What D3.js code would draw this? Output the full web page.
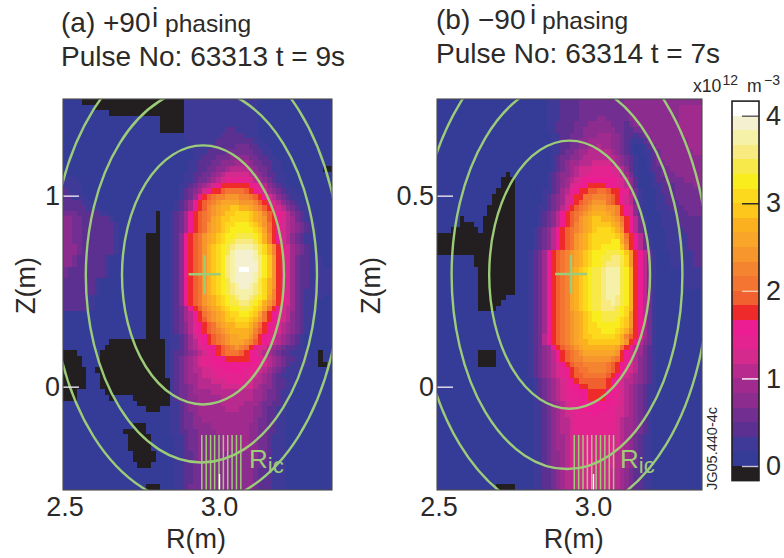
<!DOCTYPE html>
<html>
<head>
<meta charset="utf-8">
<script src="https://cdn.jsdelivr.net/npm/d3@7"></script>
<style>
html, body { margin: 0; padding: 0; background: #fff; }
text { font-family: "Liberation Sans", Arial, sans-serif; fill: #2b2a29; }
</style>
</head>
<body>
<script>
// colour classes of the bar, lowest first: "." is below zero, "y" is above 4
var levelCodes = ".abcdefghijklmnopqrstuvwxy";
var levelColors = ["#231f20", "#353c98", "#3f3a98", "#5c3090", "#722e90", "#8c2c8e", "#a02a8e", "#b82a8e",
    "#d42a8e", "#e52390", "#ec1c92", "#ee2a2a", "#f1612f", "#f47432", "#f58430", "#f7962c", "#f8a52a",
    "#fbb020", "#fdc71c", "#fcd91c", "#f9ed1e", "#f7e94a", "#f8ea80", "#f6f1a8", "#f4f0d0", "#ffffff"];
var barTicks = [0, 1, 2, 3, 4];
var barTickColors = ["#c9c0dc", "#ffffff", "#f6c8a6", "#222222", "#555555"];

// density classes, one string per row from the top, spaces only for counting
var rowsA = [
"aaaa...... .......... ......bbbb bbbbbbbbbb bbaaaaaaaa aaaaaaaa",
"aaaaaaa... .......... ......bbbb bbbbbbbbbb bbaaaaaaaa aaaaaaaa",
"aaaaaaaaaa .......... ......bbbb bbbbbbbbbb bbaaaaaaaa aaaaaaaa",
"aaaaaaaaaa aaaaaaaaaa a.....bbbb bbbbbbbbbb bbaaaaaaaa aaaaaaaa",
"aaaaaaaaaa aaaaaaaaaa a.....bbbb bbbbbbbbbb bbaaaaaaaa aaaaaaaa",
"aaaaaaaaaa aaaaaaaaaa a.....bbbb bbbbbccbbb bbaaaaaaaa aaaaaaaa",
"aaaaaaaaaa aaaaaaaaaa aaaaaabbbb bbbbcccccb bbaaaaaaaa aaaaaaaa",
"aaaaaaaaaa aaaaaaaaaa aaaaaaabbb bbbccccccc cbbaaaaaaa aaaaaaaa",
"aaaaaaaaaa aaaaaaaaaa aaaaaaabbb bbcccccddd ccbbaaaaaa aaaaaaaa",
"aaaaaaaaaa aaaaaaaaaa aaaaaaaabb bccccddddd dccbbaaaaa aaaaaaaa",
"aaaaaaaaaa aaaaaaaaaa aaaaaaaabb cccdddeeee ddccbbaaaa aaaaaaaa",
"aaaaaaaaaa aaaaaaaaaa aaaaaaabbc ccddeeefff eddccbbaaa aaaaaaaa",
"aaaaaaaaaa aaaaaaaaaa aaaaaaabbc cddeefgggg feddcbbaaa aaaaaa..",
"aaaaaaaaaa aaaaaaaaaa aaaaaabbcc ddefghhhhh gfedccbbaa aaaaaaaa",
"bbbaaaaaaa aaaaaaaaaa aaaaaabbcd defghiiiii hgfedcbbaa aaaaaaaa",
"bbbbaaaaaa aaaaaaaaaa aaaaabbcde fghjkkkkkk jihgedcbba aaaaaaaa",
"cbbbaaaaaa aaaaaaaaaa aaaaabcdef hjkklmmmml kjihfedcbb aaaaaaaa",
"ccbbbaaaaa aaaaaaaaaa aaaaabcdfj klmnnooonn mlkjhgedcb baaaaaaa",
"ccccbbaaaa aaaaaaaaaa aaaabcdfjk lmnoppppoo onlkjhgedc bbaaaaaa",
"cccccbbbaa aaaaaaaaaa aaaabcdfjk lnopqqrrqq ponlkjhged cbbaaaaa",
"dddcccccbb aaaaaaaaaa .aabcdfjkl mnopqrrsss rqpnlkjhge dcbbaaaa",
"eeddcccccc baaaaaaaaa .aabcdfjkl mnpqrrssss rqpolkjhgf dcbbaaaa",
"eeddcccccc cbaaaaaaaa .aabcdfjkl mopqrssttt srqomkjhgf edcbbaaa",
"eeddcccccc cbaaaaaaaa .aabcdfjkl mopqrstttt tsrpmkjhgf edcbbaaa",
"eeddcccccc cbaaaaaa.. .aabcejklm opqrsttuuu utsqnkjhge dcbbaaaa",
"eeddcccccc cbaaaaaa.. .aabcejklm opqrstuvvv vusqnkjhge dcbbaaaa",
"eeedcccccc cbaaaaaa.. .aabcejklm oqrstuvwww wvusqnkjhf edcbbaaa",
"eeedcccccc cbaaaaaa.. .aabcejklm oqrstuwxxx xwusqnkjhf edcbbaaa",
"eedccccccb aaaaaaaa.. .aabcejklm oqrstvwxxx xwvtrokjhf dccbbbaa",
"eedccccccb aaaaaaaa.. .aabcejklm oqrstvwxxx xxvtrokjhf dccbbbaa",
"dccccccccb aaaaaaaa.. .aabcejklm oqrstvwxyy xxvtrokjhf dccbbbbb",
"dccccccccb aaaaaaaa.. .aabcejklm oqrstvwxxx xwvtrokjhf dccbbbbb",
"cccccccbaa aaaaaaaa.. .aabcejklm oqrstuwxxx xwusqokjhf dccbbbbb",
"cccccccbaa aaaaaaaa.. .aabcejklm oqrstuvwxx wvusqokjhf dccbbbbb",
"cccccccbaa aaaaaaaa.. .aabcejklm oqrstuvwww wvusqnkjhf dcbbbbbb",
"cccccbbaaa aaaaaaaa.. .aabcejklm opqrstuvww vutspnkjhf dcbbbbaa",
"cccccbbaaa aaaaaaaa.. .aabcejklm opqrstuuvv utsqomkjhf dcbbbaaa",
"cccccbbaaa aaaaaaaa.. .aabcdfjkl nopqrsttuu tsrpmkjhgf dcbbbaaa",
"aaaaaaaaaa aaaaaaaa.. .aabcdfgjk mnopqrsstt srpmkjihge dcbbaaaa",
"aaaaaaaaaa aaaaaaaa.. .aabcdfgjk lnopqrrsss rqomkjihge dcbbaaaa",
"aaaaaaaaaa aaaaaaaa.. .aabcdegij klmopqqrrr qomkjihgfe dcbaaaaa",
"aaaaaaaaaa aaaaaaaa.. .aabcdegij klmnopqqqq pnlkjihgfe dcbaaaaa",
"aaaaaaaaaa aaaaaaaa.. .aabbcdfhi jklmnoppqq omkjihgfed cbaaaaaa",
"aaaaaaaaaa .......... ..abbcdfgi jklmnopppo nlkjihgfed cbaaaaaa",
"aaaaaaaaa. .......... ..abbcdfgh ijjklmnonm kjihgfedcc bbaaaaaa",
"...aaaaa.. .......... ..abccdefg hijklmmmlk jihgfedccb bbbaa.aa",
"....aaaa.. .......... ..abcdefgh iijjjkkkkk jjihgfedcc bbbaa.aa",
"....aaaa.. .......... ..abcdefgh iiijjjjjjj jiihgfedcb bbbaa..a",
".....aa... .......... ..abcdefgg hhiiijjjji iihgfedcbb bbaaaaaa",
".....aaa.. .......... ..abcdeffg hhhiiiiiii ihgfedcbbb aaaaaaaa",
".....aaa.. .......... ...bcdeffg gghhhiiiih hggfedccbb aaaaaaaa",
".....aaa.. .......... ...bcddefg gggghhhhhh hgfeedccbb aaaaaaaa",
"...aaaaaa. .......... ...bcddeff ffgggggggg gffeddcbba aaaaaaaa",
"...aaaaaaa .aaaa..... ...bcddeef ffffgggggg gffeddcbba aaaaaaaa",
"aaaaaaaaaa aaaaaa.... ...bbcdeef ffffgggggf ffeddccbba aaaaaaaa",
"aaaaaaaaaa aaaaaaaa.. .aabbcdeef fffffgggff feedccbbaa aaaaaaaa",
"aaaaaaaaaa aaaaaaaaaa aaabbcddef ffffffffff feedccbbaa aaaaaaaa",
"aaaaaaaaaa aaaaaaaaaa aaabbcddee ffffffffff feddccbbaa aaaaaaaa",
"aaaaaaaaaa aaaaa...aa aaabbcddee eeffffffff eeddccbbaa aaaaaaaa",
"aaaaaaaaaa aaa.....aa aaabbccdde eeefffffff eeddccbbaa aaaaaaaa",
"aaaaaaaaaa aaaa.....a aaaabbcdde eeeeffffff eeddcbbbaa aaaaaaaa",
"aaaaaaaaaa aaaa.....a aaaabbcdde eeeeffffff eeddcbbbaa aaaaaaaa",
"aaaaaaaaaa aaaa.....a aaaabbcdde eeeeffffff eeddcbbbaa aaaaaaaa",
"aaaaaaaaaa aaaaa..... aaaabbccde eeeeeeeeee eeddcbbbaa aaaaaaaa",
"aaaaaaaaaa aaaaa..... aaaabbccde eeeeeeeeee eeddcbbbaa aaaaaaaa",
"aaaaaaaaaa aaaaaa...a aaaabbccdd eeeeeeeeee eddcccbbaa aaaaaaaa",
"aaaaaaaaaa aaaaaaaaaa aaaabbccdd eeeeeeeeee edcccbbbaa aaaaaaaa",
"aaaaaaaaaa aaaaaaaaaa aaaabbccdd eeeeeeeeee edcccbbbaa aaaaaaaa",
"aaaaaaaaaa aaaaaaaaaa aaaabbccdd eeeeeeeeee edcccbbbaa aaaaaaaa",
"aaaaaaaaaa aaaaaaaa.. .aaabbcddd eeeeeeeeee edcccbbbaa aaaaaaaa"
];

// same for panel (b)
var rowsB = [
"aaaaaaaaaa aaaaaaaaaa aaaabbbccc cddddddddd deeeeeeeee eeeeeeee",
"aaaaaaaaaa aaaaaaaaaa aaaabbbccc cddddddddd deeeeeeeee eeefffff",
"aaaaaaaaaa aaaaaaaaaa aaaabbbccc cddddddddd ddeeeeeeee eeefffff",
"aaaaaaaaaa aaaaaaaaaa aaaabbbccc cddddeeddd ddeeeeeeee eeefffff",
"aaaaaaaaaa aaaaaaaaaa aaaabbcccc dddeeeeedd dcdeeeeeee eeefffff",
"aaaaaaaaaa aaaaaaaaaa aaaabbcccc ddeeeeeeed dccddeeeee eeefffff",
"aaaaaaaaaa aaaaaaaaaa aaaaabbccd ddeeefffee dccbcdeeee eeeeffff",
"aaaaaaaaaa aaaaaaaaaa aaaaabbccd deefffffee dcbbbcdeee eeeeefff",
"aaaaaaaaaa aaaaaaaaaa aaaaabbccd deeffgffee dcbaabcdee eeeeefff",
"aaaaaaaaaa aaaaaaaaaa aaaaabbcdd effgggggfe dcbaabbcde eeeeeeff",
"aaaaaaaaaa aaaaaaaaaa aaaaabcdde efgggggggf edcbaabcde eeeeeeee",
"aaaaaaaaaa aaaaaaaaaa aaaaabcdef fggghhhhgf edcbaabcdd eeeeeeee",
"aaaaaaaaaa aaaaaaaaaa aaaaabcdef ghhhiiiihh gecbaabccd deeeeeee",
"aaaaaaaaaa aaaaa.aaaa aaaabcdeef ghhiiiiiih gfdbaaabcd ddeeeeee",
"aaaaaaaaaa aaaa...aaa aaaabcdefg hijjjjjjji hgecaaabcc ddddeeee",
"aaaaaaaaaa aaaa...aaa aaaabcdefh ijjkkkkjji hgecaaabbc ccddddee",
"aaaaaaaaaa aaa....aaa aaabbcdfgi jkkllmmlkk jifdbaaabc ccdddddd",
"aaaaaaaaaa aa.....aaa aaabcdefhi kkmmnnnmlk jhgdbaaabb ccdddddd",
"aaaaaaaaaa aa.....aaa aaabcdefhi klmnooomlk jhgdbaaabb cccddddd",
"aaaaaaaaaa a......aaa aabbcdegik lmnopppoon kjhebaaabb bcccdddd",
"aaaaaaaaaa a......aaa aabcdegjkl mnopqqqpon kjhecaaaab bbcccddd",
"aaaaa.aaaa .......aaa aabcdegjkl mopqrrqqpo mkjgdbaaab bbcccccc",
"aaaaa...aa .......aaa aabcdegjkl nopqrrrrqp nkjgdbaaab bbbccccc",
"aaa......a .......aaa abcdegjklm nopqrsssrq okjgdbaaaa bbbbcccc",
".......... .......aaa abcdegjklm opqrsssssr qmkjgdbaaa bbbbbccc",
".......... .......aaa abcdegjklm opqrsssstt qnkjgdbaaa bbbbbccc",
".......... .......aaa abcdegjklm opqrsstttt rokjgdbaaa bbbbbccc",
".......... .......aaa bcdfjklmno pqrstttuuu trokjgdbaa abbbbbcc",
"aaaaaaaa.. .......aaa bcdfjklmno pqrsttuuvv usokjgdbaa abbbbbcc",
"aaaaaaaa.. .......aaa bcdfjklmno pqrsttuvvv usokjgdbaa abbbbbcc",
"aaaaaaaaa. .......aaa bcdfjklmnp qrstuuvwww utqkjgdbaa aaaabbbb",
"aaaaaaaaa. .......aaa bcdfjklmnp qrstuuvwww utqkjgdbaa aaaabbbb",
"aaaaaaaaa. .......aaa bcdfjklmnp qrstuuvwww utqkjgdbaa aaaabbbb",
"aaaaaaaaa. .......aaa bcdfjklmnp qrstuuvwww utqkjgdbaa aaaabbbb",
"aaaaaaaaa. .......aaa bcdfjklmnp qrstuuvwww utqkjgdbaa aaaaaaaa",
"aaaaaaaaa. .....aaaaa bcdfjklmnp qrstuuvwwv utqkjgdbaa aaaaaaaa",
"aaaaaaaaa. ....aaaaaa bcdfjklmnp qrstuuvvwv utqkjgdbaa aaaaaaaa",
"aaaaaaaaa. ...aaaaaaa bcdfjklmnp qrstuuvvvu tsqkjgdbaa aaaaaaaa",
"aaaaaaaaaa aaaaaaaaaa bcdfjklmno pqrsttuuuu tsokjgdbaa aaaaaaaa",
"aaaaaaaaaa aaaaaaaaaa bcdfjklmno pqrsttuuut srokjgdbaa aaaaaaaa",
"aaaaaaaaaa aaaaaaaaaa bcdfjklmno pqrssttttt srokjfdbaa aaaaaaaa",
"aaaaaaaaaa aaaaaaaaaa bcdfjklmno pqrsssttts rqnkjfdbaa aaaaaaaa",
"aaaaaaaaaa aaaaaaaaaa bcdgjklmno pqrrsssssr qnlkjfdbaa aaaaaaaa",
"aaaaaaaaaa aaaaaaaaaa bcdgjklmno pqqrrrrrrr qokjgedbaa aaaaaaaa",
"aaaaaaaaaa aaaaaaaaaa bcdefjklmn opqqqqqqqp mkjgfdcbaa aaaaaaaa",
"aaaaaaaaa. ...aaaaaaa bcdefgjklm nopppppppo kjhgfdcbaa aaaaaaaa",
"aaaaaaaaa. ...aaaaaaa bcdefgjklm nnoooooonm kjhgedcbaa aaaaaaaa",
"aaaaaaaaa. ...aaaaaaa bcdefghjkl mmnnnnnmlk jihgedcbaa aaaaaaaa",
"aaaaaaaaaa aaaaaaaaaa bcdefghijk lmmnnnnmlk jihgedcbaa aaaaaaaa",
"aaaaaaaaaa aaaaaaaaaa bcdefghijk llmmmmmlkj ihgfedcbaa aaaaaaaa",
"aaaaaaaaaa aaaaaaaaaa abcdefghij kllllllkji hggfedcbaa aaaaaaaa",
"aaaaaaaaaa aaaaaaaaaa abcdefghij jkkllllkji hgfedcbbaa aaaaaaaa",
"aaaaaaaaaa aaaaaaaaaa abcdefghii jjjkkkkjji hgfedcbbaa aaaaaaaa",
"aaaaaaaaaa aaaaaaaaaa abcdefghii ijjkkkkjii hgfedcbbaa aaaaaaaa",
"aaaaaaaaaa aaaaaaaaaa abbcdefghi ijjjjjjjii hgfedcbaaa aaaaaaaa",
"aaaaaaaaaa aaaaaaaaaa abbcdefghi iijjjjjiih hgfedcbaaa aaaaaaaa",
"aaaaaaaaaa aaaaaaaaaa abbcdefghh iiiijiiiih hgfedcbaaa aaaaaaaa",
"aaaaaaaaaa aaaaaaaaaa abbcdefggh iiiiiiiiih gffedcbaaa aaaaaaaa",
"aaaaaaaaaa aaaaaaaaaa abbcdefggh iiiiiiiiih gffedcbaaa aaaaaaaa",
"aaaaaaaaaa aaaaaaaaaa abbcdefggh iiiiiiiiih gffedcbaaa aaaaaaaa",
"aaaaaaaaaa aaaaaaaaaa abbcdeffgh hiiiiiiihh gfedcbbaaa aaaaaaaa",
"aaaaaaaaaa aaaaaaaaaa abbcdeffgh hiiiiiiihh gfedcbbaaa aaaaaaaa",
"aaaaaaaaaa aaaaaaaaaa abbcdeffgh hiiiiiiihh gfedcbbaaa aaaaaaaa",
"aaaaaaaaaa aaaaaaaaaa abbcdeefgh hhiiiihhhg gfedcbbaaa aaaaaaaa",
"aaaaaaaaaa aaaaaaaaaa abbcdeefgh hhiiiihhhg gfedcbbaaa aaaaaaaa",
"aaaaaaaaaa aaaaaaaaaa abbcdeefgh hhiiiihhhg gfedcbbaaa aaaaaaaa",
"aaaaaaaaaa aaaaaaaaaa abbccdefgg hhhhhhhhgg fedccbbaaa aaaaaaaa",
"aaaaaaaaaa aaaaaaaaaa abbccdefgg hhhhhhhhgg fedccbbaaa aaaaaaaa",
"aaaaaaaaaa aaaaaaaaaa abbccdefgg hhhhhhhhgg fedccbbaaa aaaaaaaa",
"aaaaaaaaaa aaa....aaa abbccdefgg hhhhhhhhgg fedccbbaaa aaaaaaaa"
];

// flux surfaces as [R centre, Z centre, R half width, Z half height]
var surfacesA = [
    [2.9487, .585, .2596, .678],
    [2.9436, .582, .3705, .979],
    [2.9263, .595, .4647, 1.209]
];
var surfacesB = [
    [2.925, .2932, .2577, .3508],
    [2.9167, .2924, .3699, .5079],
    [2.9038, .295, .4679, .6309]
];

// magnetic axis and the hatched Ric strip
var axisA = [2.954, .5885], axisB = [2.9295, .295];
var ricA = [2.945, 2.959, 2.973, 2.986, 3.0, 3.014, 3.028, 3.042, 3.056, 3.07];
var ricB = [2.94, 2.954, 2.968, 2.982, 2.996, 3.01, 3.024, 3.038, 3.052, 3.066];

var green = "#9ccc78";

var svg = d3.select("body").append("svg")
    .attr("width", 784)
    .attr("height", 558)
    .style("display", "block");

var colorOf = d3.scaleOrdinal().domain(levelCodes.split("")).range(levelColors);

function drawPanel(opt) {
    var x = d3.scaleLinear().domain(opt.rDomain).range(opt.xRange);
    var y = d3.scaleLinear().domain(opt.zDomain).range(opt.yRange);
    var rows = opt.rows.map(function(r){ return r.replace(/ /g, ""); });

    var g = svg.append("g").attr("class", "panel");

    g.append("clipPath").attr("id", "clip" + opt.id)
        .append("rect")
        .attr("x", opt.xRange[0])
        .attr("y", opt.yRange[1])
        .attr("width", opt.xRange[1] - opt.xRange[0])
        .attr("height", opt.yRange[0] - opt.yRange[1]);

    var colBand = d3.scaleBand().domain(d3.range(58)).range(opt.xRange);
    var rowBand = d3.scaleBand().domain(d3.range(rows.length)).range([opt.yRange[1], opt.yRange[0]]);

    var rowG = g.selectAll(".row")
        .data(rows)
        .enter()
        .append("g")
        .attr("class", "row");

    rowG.selectAll("rect")
        .data(function(d, i){
            return d.split("").map(function(c, j){ return {c: c, col: j, row: i}; });
        })
        .enter()
        .append("rect")
        .attr("x", function(d){ return colBand(d.col); })
        .attr("y", function(d){ return rowBand(d.row); })
        .attr("width", colBand.bandwidth() + 0.4)
        .attr("height", rowBand.bandwidth() + 0.4)
        .attr("shape-rendering", "crispEdges")
        .style("fill", function(d){ return colorOf(d.c); });

    var over = g.append("g").attr("clip-path", "url(#clip" + opt.id + ")");

    over.selectAll(".surface")
        .data(opt.surfaces)
        .enter()
        .append("ellipse")
        .attr("class", "surface")
        .attr("cx", function(d){ return x(d[0]); })
        .attr("cy", function(d){ return y(d[1]); })
        .attr("rx", function(d){ return x(d[0] + d[2]) - x(d[0]); })
        .attr("ry", function(d){ return y(d[1] - d[3]) - y(d[1]); })
        .style("fill", "none")
        .style("stroke", green)
        .style("stroke-width", 2.4);

    // hatched strip
    over.selectAll(".ric")
        .data(opt.ric)
        .enter()
        .append("line")
        .attr("class", "ric")
        .attr("x1", function(d){ return x(d); })
        .attr("x2", function(d){ return x(d); })
        .attr("y1", opt.ricTop)
        .attr("y2", opt.yRange[0])
        .style("stroke", green)
        .style("stroke-width", 1.5);

    // cross on the axis
    var cx = x(opt.axis[0]), cy = y(opt.axis[1]);
    g.append("line").attr("x1", cx - 16).attr("x2", cx + 16).attr("y1", cy).attr("y2", cy)
        .style("stroke", green).style("stroke-width", 2.4);
    g.append("line").attr("x1", cx).attr("x2", cx).attr("y1", cy - 19).attr("y2", cy + 20)
        .style("stroke", green).style("stroke-width", 2.4);

    var ric = g.append("text")
        .attr("x", opt.ricX)
        .attr("y", 468)
        .style("fill", green)
        .style("font-size", "26px")
        .text("R");
    ric.append("tspan").attr("dy", 5).style("font-size", "22px").style("fill", green).text("ic");

    // axes with the ticks turned inwards
    var zAxis = d3.axisLeft(y).tickValues(opt.zTicks).tickSize(-16).tickPadding(3)
        .tickFormat(function(d){ return d; });
    var zG = g.append("g").attr("transform", "translate(" + opt.xRange[0] + ",0)").call(zAxis);
    zG.select(".domain").remove();
    zG.selectAll("line").style("stroke", "#e8e4f0").style("stroke-width", 1.4);
    zG.selectAll("text").style("font-size", "27px");

    var rAxis = d3.axisBottom(x).tickValues(opt.rTicks).tickSize(-16).tickPadding(7)
        .tickFormat(d3.format(".1f"));
    var rG = g.append("g").attr("transform", "translate(0," + opt.yRange[0] + ")").call(rAxis);
    rG.select(".domain").remove();
    rG.selectAll("line").style("stroke", "#ffffff").style("stroke-width", 1.4)
        .style("opacity", function(d){ return d === 2.5 ? 0 : 1; });
    rG.selectAll("text").style("font-size", "27px")
        .attr("dx", function(d){ return d === 2.5 ? 1.5 : 0; });

    g.append("rect")
        .attr("x", opt.xRange[0])
        .attr("y", opt.yRange[1])
        .attr("width", opt.xRange[1] - opt.xRange[0])
        .attr("height", opt.yRange[0] - opt.yRange[1])
        .style("fill", "none")
        .style("stroke", "#4a4a4a")
        .style("stroke-width", 1.1);

    g.append("text")
        .attr("text-anchor", "middle")
        .attr("x", opt.rLabelX)
        .attr("y", 548)
        .style("font-size", "27px")
        .text("R(m)");

    g.append("text")
        .attr("text-anchor", "middle")
        .attr("transform", "translate(" + opt.zLabelX + ",285.5) rotate(-90)")
        .style("font-size", "27px")
        .text("Z(m)");

    // two line heading
    var head = g.append("text").attr("y", opt.titleY).style("font-size", "28px");
    head.append("tspan").attr("x", opt.titleX).text(opt.title[0]);
    head.append("tspan").attr("x", opt.iX).attr("y", opt.titleY - 5).text("i");
    head.append("tspan").attr("x", opt.phasingX).attr("y", opt.titleY).style("font-size", "24.6px").text("phasing");

    g.append("text").attr("x", opt.titleX).attr("y", opt.titleY + 33.7).style("font-size", "28px").text(opt.title[1]);
}

drawPanel({
    id: "A", rows: rowsA, surfaces: surfacesA, axis: axisA, ric: ricA,
    rDomain: [2.5, 3.3622], zDomain: [-.541, 1.506],
    xRange: [63, 332], yRange: [490, 99],
    zTicks: [0, 1], rTicks: [2.5, 3.0],
    ricTop: 435, ricX: 249, rLabelX: 196, zLabelX: 34.5, titleX: 61,
    titleY: 32, iX: 152, phasingX: 165,
    title: ["(a) +90", "Pulse No: 63313 t = 9s"]
});

drawPanel({
    id: "B", rows: rowsB, surfaces: surfacesB, axis: axisB, ric: ricB,
    rDomain: [2.5, 3.3494], zDomain: [-.2704, .753],
    xRange: [437, 702], yRange: [490, 99],
    zTicks: [0, 0.5], rTicks: [2.5, 3.0],
    ricTop: 435, ricX: 620, rLabelX: 573.7, zLabelX: 380, titleX: 436,
    titleY: 29, iX: 530, phasingX: 542,
    title: ["(b) \u221290", "Pulse No: 63314 t = 7s"]
});

// colour bar, each class is one sixth of a unit
var barY = d3.scaleLinear().domain([0, 4]).range([466, 115.7]);

var bar = svg.append("g").attr("class", "colorbar");

bar.selectAll("rect")
    .data(levelColors)
    .enter()
    .append("rect")
    .attr("x", 732)
    .attr("width", 27)
    .attr("y", function(d, i){ return barY((i) / 6); })
    .attr("height", function(d, i){ return barY((i - 1) / 6) - barY(i / 6); })
    .attr("shape-rendering", "crispEdges")
    .style("fill", function(d){ return d; });

var barAxis = d3.axisRight(barY).tickValues(barTicks).tickSize(-17).tickPadding(7)
    .tickFormat(function(d){ return d; });
var barG = bar.append("g").attr("transform", "translate(759,0)").call(barAxis);
barG.select(".domain").remove();
barG.selectAll("line")
    .style("stroke", function(d, i){ return barTickColors[i]; })
    .style("stroke-width", 1.4);
barG.selectAll("text").style("font-size", "27px");

bar.append("rect")
    .attr("x", 732)
    .attr("y", barY(4 + 1 / 6))
    .attr("width", 27)
    .attr("height", barY(-1 / 6) - barY(4 + 1 / 6))
    .style("fill", "none")
    .style("stroke", "#231f20")
    .style("stroke-width", 1.6);

var unit = svg.append("text").attr("y", 91.7).style("font-size", "17.6px");
unit.append("tspan").attr("x", 693).text("x10");
unit.append("tspan").attr("x", 722.5).attr("y", 85).style("font-size", "14px").text("12");
unit.append("tspan").attr("x", 747).attr("y", 91.7).text("m");
unit.append("tspan").attr("x", 764).attr("y", 85).style("font-size", "14px").text("\u22123");

svg.append("text")
    .attr("transform", "translate(716.5,490) rotate(-90)")
    .style("font-size", "14.5px")
    .text("JG05.440-4c");
</script>
</body>
</html>
